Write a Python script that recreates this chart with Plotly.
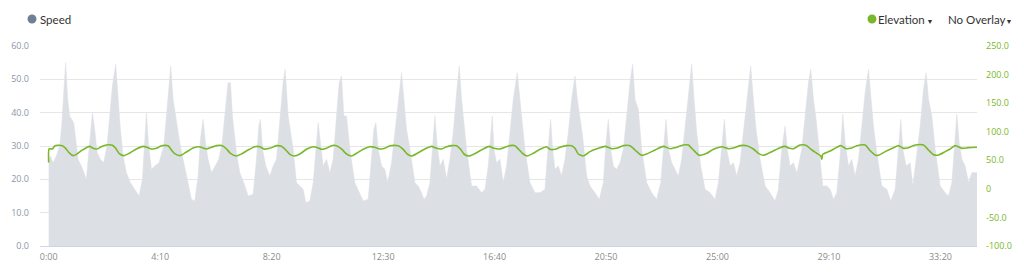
import plotly.graph_objects as go

# ---------------- data (elapsed seconds, speed, elevation) ----------------
speed_t = [0, 3.7, 9.7, 17.2, 24.7, 29.2, 33.7, 38.1, 42.6, 47.1, 51.6, 56.1, 60.6, 65.8, 73.3, 80.8, 84.5, 90.5, 94.2, 98,
           103.2, 108.5, 116, 123.4, 130.9, 136.9, 142.9, 150.3, 155.6, 160.8, 166.8, 174.3, 183.3, 193, 202.7, 210.2,
           215.4, 219.2, 223.6, 230.4, 237.9, 247.6, 258.1, 265.5, 273.8, 279, 286.5, 294, 303, 312.7, 320.1, 327.6,
           335.1, 340.3, 346.3, 351.6, 357.5, 365, 374, 381.5, 389, 395.7, 402.4, 407.7, 412.1, 421.1, 428.6, 437.6,
           447.3, 458.5, 466, 471.2, 475, 479.5, 487, 495.9, 503.4, 510.9, 518.4, 525.8, 530.3, 537.1, 548.3,
           555.8, 563.2, 570.7, 576.7, 585.7, 593.2, 599.1, 604.4, 609.6, 615.6, 623.1, 630.6, 638, 645.5, 651.5, 656.7,
           662, 668, 675.4, 686.7, 694.1, 705.4, 716.6, 724.1, 729.3, 733.8, 739, 746.5, 754, 760, 769, 776.4, 783.9,
           791.4, 796.6, 802.6, 810.1, 821.3, 828.8, 836.3, 841.5, 847.5, 855, 861, 866.2, 871.4, 877.4, 884.9, 892.4,
           899.8, 907.3, 914.8, 920.8, 926, 929.8, 937.2, 948.5, 959.7, 970.9, 978.4, 985.9, 991.1, 994.8, 998.6,
           1004.6, 1012, 1019.5, 1027, 1034.5, 1042, 1050.9, 1056.9, 1062.9, 1068.1, 1079.4, 1090.6, 1101.8, 1113,
           1116.8, 1122.7, 1125.7, 1130.2, 1135.5, 1143, 1150.4, 1157.9, 1165.4, 1172.9, 1180.3, 1185.6, 1191.6, 1197.5,
           1206.5, 1214, 1225.2, 1235, 1243.9, 1249.9, 1255.1, 1260.4, 1266.4, 1273.8, 1281.3, 1288.8, 1296.3, 1303.8,
           1309.7, 1315, 1322.5, 1329.9, 1341.2, 1352.4, 1363.6, 1372.6, 1380.1, 1384.5, 1389.8, 1397.3, 1404.7, 1412.2,
           1419.7, 1427.2, 1434.7, 1442.1, 1447.4, 1453.4, 1462.3, 1472.1, 1483.3, 1494.5, 1502, 1509.5, 1515.4, 1520.7,
           1528.2, 1535.6, 1543.1, 1550.6, 1558.1, 1565.6, 1574.5, 1580.5, 1586.5, 1595.5, 1606.7, 1617.9, 1629.1,
           1636.6, 1644.1, 1651.6, 1656.8, 1662.8, 1670.3, 1677.8,
           1681.5, 1689, 1696.5, 1704, 1709.2, 1715.2, 1721.2, 1728.7, 1736.1, 1745.1, 1752.6, 1760.1, 1767.6, 1775,
           1781, 1786.3, 1793.7, 1801.2, 1808.7, 1816.2, 1823.7, 1831.1, 1838.6, 1843.9, 1849.8, 1857.3, 1868.5, 1879.8,
           1888.7, 1898.5, 1906, 1911.2, 1915.7, 1923.1, 1932.1, 1938.1, 1945.6, 1954.6, 1962, 1968, 1973.3, 1980.7,
           1988.2, 1999.4, 2010.7, 2018.1, 2025.6, 2030.9, 2036.8, 2042.1, 2048.1, 2055.5, 2063, 2070.5, 2078, 2082]
speed_v = [25, 27, 25, 27, 30, 36, 46, 55, 44, 39, 38, 37, 32, 26, 24, 21, 20, 29, 36, 40,
           35, 28, 26, 25, 30, 39, 48, 54.5, 44, 35, 27, 22, 19, 17, 15, 20,
           32, 40, 31, 23, 24, 25, 30, 42, 54, 44, 37, 31, 25, 19, 14, 13.5,
           21, 32, 38, 31, 26, 22, 24, 26, 31, 41, 49, 49, 39, 28, 22, 19,
           15, 15.5, 26, 36, 38, 29, 24, 21, 24, 26, 39, 49, 53, 39, 29,
           19, 18, 17, 13, 13.5, 19, 29, 37, 31, 24, 26, 22, 26, 39, 49, 51,
           39, 39, 29, 19, 17, 13.5, 14, 26, 35, 37, 29, 24, 23, 19, 25, 34, 44,
           52, 44, 35, 29, 19, 18, 16, 14, 15, 19, 31, 39, 30, 24, 26, 20,
           26, 34, 46, 54, 44, 38, 29, 18, 18, 16, 17, 24, 34, 39, 29,
           25, 26, 19, 24, 34, 44, 52, 44, 37, 29, 19, 16, 16, 17,
           24, 33, 38, 29, 23, 24, 21, 26, 34, 44, 51, 44, 38, 33,
           21, 18, 16, 14, 19, 31, 38, 29, 24, 23, 25, 29, 39, 49,
           54.5, 44, 41, 29, 19, 16, 14, 19, 31, 38, 29, 25, 23, 21,
           26, 36, 46, 54.5, 44, 34, 24, 17, 16, 14, 19, 29, 38, 29,
           24, 25, 21, 25, 34, 44, 54, 44, 35, 26, 18, 16, 13.5,
           17, 29, 36, 29, 24, 25, 22,
           24, 29, 39, 49, 53, 44, 38, 28, 18, 18, 17, 14, 16, 27,
           39.5, 31, 24, 26, 21, 26, 36, 46, 53, 44, 36, 28, 18, 17,
           13.5, 17, 29, 38, 29, 24, 25, 18, 26, 36, 47, 52, 44, 39,
           29, 18, 16, 15, 19, 30, 39.5, 31, 26, 24, 19, 22, 22, 22]

elev_t = [0, 1, 8.2, 13.5, 21, 30.7, 38.1, 45.6, 54.6, 62.1, 73.3, 84.5, 92, 99.5, 108.5, 118.2, 129.4, 142.9, 150.3,
          157.8, 168.3, 181.8, 196.7, 211.7, 220.7, 230.4, 241.6, 252.8, 267.8, 275.3, 282.7, 294, 309, 323.9, 337.3,
          346.3, 353.8, 365, 376.2, 389.7, 398.7, 407.7, 421.1, 432.3, 447.3, 462.3, 473.5, 482.5, 495.9, 510.9, 522.1,
          531.8, 540.8, 552, 563.2,
          578.2, 593.2, 600.6, 611.9, 623.1, 634.3, 645.5, 656.7, 668, 679.2, 690.4, 705.4, 720.3, 731.5, 742.8, 754,
          765.2, 783.9, 795.1, 804.1, 813.8, 828.8, 843.7, 858.7, 869.9, 881.1, 892.4, 903.6, 914.8, 923.8, 931.3,
          943.2, 959.7, 974.6, 988.1, 998.6, 1012, 1023.3, 1034.5, 1045.7, 1055.4, 1064.4, 1073.4, 1086.8, 1101.8,
          1116.8,
          1124.2, 1135.5, 1146.7, 1161.6, 1172.9, 1180.3, 1187.8, 1199, 1214, 1232.7, 1247.7, 1262.6, 1275.3, 1288.8,
          1303.8, 1315, 1329.9, 1341.2, 1359.9, 1378.6, 1393.5, 1404.7, 1423.4, 1434.7, 1445.9, 1459.3, 1475.8, 1490.8,
          1509.5, 1524.4, 1535.6, 1550.6, 1565.6, 1580.5, 1591.7, 1603, 1621.7, 1640.4, 1651.6, 1661.3, 1670.3,
          1685.3, 1700.2, 1711.5, 1722.7, 1731.7, 1733.9, 1736.1, 1752.6, 1767.6, 1776.5, 1788.5, 1801.2, 1812.4,
          1831.1, 1840.9, 1853.6, 1861.1, 1876, 1894.7, 1906, 1917.2, 1928.4, 1943.3, 1962, 1973.3, 1984.5, 1995.7,
          2010.7, 2021.9, 2033.1, 2048.1, 2063, 2082]
elev_v = [46, 70, 69.8, 75, 76.2, 75.6, 70.9, 63.3, 58.1, 60.4, 66.8, 72.1, 74.4, 70.9, 69.8, 73.8, 76.7, 76.2, 70.9,
          62.2, 58.1, 62.8, 69.8, 74.4, 72.7, 69.8, 70.9, 75.6, 75.6, 68, 61.6, 58.1, 64.5, 71.5, 73.8,
          71.5, 69.8, 72.7, 75.6, 75.6, 69.8, 62.2, 57.5, 61, 68, 73.8, 73.8, 69.8, 70.9, 75.6, 74.4,
          68, 60.4, 57.5, 61,
          69.2, 73.8, 72.7, 69.2, 70.9, 75.6, 75.6, 69.8, 61, 57.5, 62.2, 69.2, 73.8, 72.7, 69.8, 70.9,
          75.6, 75.6, 69.2, 61, 57.5, 63.3, 69.8, 74.4, 70.9, 69.8, 73.8, 75.6, 75.6, 69.2, 61,
          57.5, 63.3, 69.8, 74.4, 70.9, 69.8, 72.7, 75.6, 75.6, 68, 61, 57.5, 62.2, 69.2,
          73.8,
          69.2, 69.2, 72.7, 75.6, 75.6, 70.9, 61, 57.5, 65.1, 70.9, 74.4, 70.3, 71.5, 75.6,
          75.6, 68, 58.7, 61, 68, 74.4, 70.3, 72.1, 76.7, 76.7, 68, 58.7, 62.2, 69.2,
          73.8, 70.3, 71.5, 75.6, 75.6, 69.8, 62.2, 58.7, 65.1, 72.1, 74.4, 70.9, 70.3,
          76.7, 75.6, 68, 62.2, 57.5, 51.7, 60.4, 66.3, 72.7, 75.6, 70.3, 71.5, 75.6,
          76.7, 68, 59.3, 58.7, 65.1, 72.1, 75.6, 70.9, 72.1, 76.7, 76.7, 68, 59.8, 59.3,
          65.1, 69.8, 75.6, 70.9, 72.1, 72.7]

x_tick_vals = [0, 250, 500, 750, 1000, 1250, 1500, 1750, 2000]
x_tick_text = ["0:00", "4:10", "8:20", "12:30", "16:40", "20:50", "25:00", "29:10", "33:20"]
speed_tick_vals = [0, 10, 20, 30, 40, 50, 60]
speed_tick_text = ["0.0", "10.0", "20.0", "30.0", "40.0", "50.0", "60.0"]
elev_tick_vals = [-100, -50, 0, 50, 100, 150, 200, 250]
elev_tick_text = ["-100.0", "-50.0", "0", "50.0", "100.0", "150.0", "200.0", "250.0"]

# ---------------- styling ----------------
W, H = 1024, 277
ML, MR, MT, MB = 40, 47, 46, 31
PW = W - ML - MR
PH = H - MT - MB
FONT = "Open Sans"
HEAD_FONT = "Lato"
HEAD_SIZE = 11.5
GREEN = "#78b82a"
SPEED_FILL = "#dcdfe4"
SPEED_DOT = "#6f7f95"


def px(x):
    return (x - ML) / PW


def py(y):
    return 1 - (y - MT) / PH


fig = go.Figure()
fig.add_trace(go.Scatter(
    x=speed_t, y=speed_v, mode="lines", fill="tozeroy",
    line=dict(color=SPEED_FILL, width=0.5), fillcolor=SPEED_FILL,
    showlegend=False, hoverinfo="skip"))
fig.add_trace(go.Scatter(
    x=elev_t, y=elev_v, mode="lines", yaxis="y2",
    line=dict(color=GREEN, width=1.6, shape="spline", smoothing=0.6),
    showlegend=False, hoverinfo="skip"))

fig.update_layout(
    width=W, height=H,
    margin=dict(l=ML, r=MR, t=MT, b=MB, pad=0),
    paper_bgcolor="white", plot_bgcolor="white",
    font=dict(family=FONT, size=9, color="#888888"),
    xaxis=dict(range=[-19.5, 2082], tickvals=x_tick_vals, ticktext=x_tick_text,
               showgrid=False, zeroline=False, showline=True, linecolor="#ccd6eb", linewidth=1,
               ticks="", tickfont=dict(size=9, color="#8a8a8a"), ticklabelstandoff=2),
    yaxis=dict(range=[0, 60], tickvals=speed_tick_vals, ticktext=speed_tick_text,
               showgrid=True, gridcolor="#e6e6e6", gridwidth=1, zeroline=False,
               ticks="", tickfont=dict(size=9, color="#8b96a8"), ticklabelstandoff=10),
    yaxis2=dict(range=[-100, 250], tickvals=elev_tick_vals, ticktext=elev_tick_text,
                overlaying="y", side="right", showgrid=False, zeroline=False,
                ticks="", tickfont=dict(size=9, color=GREEN), ticklabelstandoff=8),
)

# Header legend items
fig.add_shape(type="circle", xref="paper", yref="paper", xsizemode="pixel", ysizemode="pixel",
              xanchor=px(32), yanchor=py(19), x0=-4.5, x1=4.5, y0=-4.5, y1=4.5,
              fillcolor=SPEED_DOT, line=dict(width=0))
fig.add_shape(type="circle", xref="paper", yref="paper", xsizemode="pixel", ysizemode="pixel",
              xanchor=px(872), yanchor=py(19), x0=-4.5, x1=4.5, y0=-4.5, y1=4.5,
              fillcolor=GREEN, line=dict(width=0))
fig.add_annotation(x=px(37.5), y=py(19), xref="paper", yref="paper", text="Speed", showarrow=False,
                   xanchor="left", yanchor="middle", font=dict(family=HEAD_FONT, size=HEAD_SIZE, color="#333333"))
fig.add_annotation(x=px(876), y=py(19), xref="paper", yref="paper",
                   text="Elevation<span style='font-size:7px'> ▼</span>",
                   showarrow=False, xanchor="left", yanchor="middle",
                   font=dict(family=HEAD_FONT, size=HEAD_SIZE, color="#333333"))
fig.add_annotation(x=px(946), y=py(19), xref="paper", yref="paper",
                   text="No Overlay<span style='font-size:7px'>▼</span>",
                   showarrow=False, xanchor="left", yanchor="middle",
                   font=dict(family=HEAD_FONT, size=HEAD_SIZE, color="#333333"))

fig.write_html("out.html")
